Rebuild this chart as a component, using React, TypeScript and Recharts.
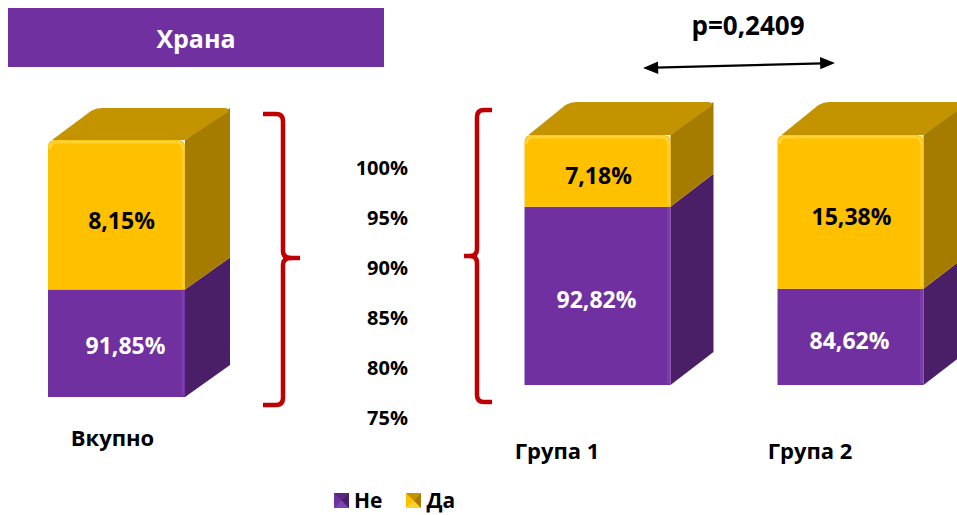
import React from 'react';
import { BarChart, Bar, XAxis, YAxis, LabelList, Legend } from 'recharts';

// Group comparison
const groupCategories = ['Група 1', 'Група 2'];
const groupNo = [92.82, 84.62];
const groupYes = [7.18, 15.38];
const groupTicks = [75, 80, 85, 90, 95, 100];
const groupDomain = [75, 100];

// Overall
const totalCategories = ['Вкупно'];
const totalNo = [91.85];
const totalYes = [8.15];
const totalDomain = [86, 100];

const seriesNames = ['Не', 'Да'];
const titleText = 'Храна';
const pValueText = 'p=0,2409';

const FONT = '"Open Sans", "Noto Sans", sans-serif';
const PURPLE = { face: '#7030A0', side: '#4A1F67', top: '#5A2683', light: '#8A4CBC' };
const YELLOW = { face: '#FFC000', side: '#A67C00', top: '#C39400', light: '#FFDB4D' };

const buildRows = (cats: string[], no: number[], yes: number[]) =>
  cats.map((c, i) => ({
    category: c,
    no: no[i],
    yes: yes[i],
    yesRange: [no[i], Math.round((no[i] + yes[i]) * 100) / 100],
  }));

const groupRows = buildRows(groupCategories, groupNo, groupYes);
const totalRows = buildRows(totalCategories, totalNo, totalYes);

const fmt = (v: number) => `${v.toFixed(2).replace('.', ',')}%`;

// 3D column segment: front face, right side face and (for the top segment) a lid
const makeBox =
  (c: typeof PURPLE, dx: number, dy: number, withTop: boolean) =>
  (props: any) => {
    let { x, y, width, height } = props;
    if (height < 0) {
      y += height;
      height = -height;
    }
    const right = x + width;
    const bottom = y + height;
    const r = withTop ? 7 : 0;
    const front = withTop
      ? `M${x},${bottom} V${y + r} Q${x},${y} ${x + r},${y} H${right - r} Q${right},${y} ${right},${y + r} V${bottom} Z`
      : `M${x},${bottom} V${y} H${right} V${bottom} Z`;
    return (
      <g>
        <polygon
          points={`${right},${y} ${right + dx},${y - dy} ${right + dx},${bottom - dy} ${right},${bottom}`}
          fill={c.side}
        />
        {withTop && (
          <path
            d={`M${x + 4},${y} L${x + dx - 2},${y - dy + 3} Q${x + dx + 3},${y - dy} ${x + dx + 9},${y - dy} H${right + dx - 6} Q${right + dx},${y - dy} ${right + dx - 2},${y - dy + 4} L${right},${y} Z`}
            fill={c.top}
          />
        )}
        <path d={front} fill={c.face} />
        <line x1={right - 2} y1={y + r} x2={right - 2} y2={bottom - 2} stroke={c.light} strokeWidth={3} strokeOpacity={0.45} />
        {withTop && (
          <path
            d={`M${x + 2},${y + r + 2} Q${x + 2},${y + 2} ${x + r + 2},${y + 2} H${right - r - 2} Q${right - 2},${y + 2} ${right - 2},${y + r + 2}`}
            fill="none"
            stroke={c.light}
            strokeWidth={3}
            strokeOpacity={0.7}
          />
        )}
      </g>
    );
  };

const makeLabel = (color: string, dx: number, dy: number) => (p: any) => {
  const vb = p.viewBox || p;
  let { x, y, width, height } = vb;
  if (height < 0) {
    y += height;
    height = -height;
  }
  return (
    <text
      x={x + width / 2 + dx}
      y={y + height / 2 + dy}
      textAnchor="middle"
      dominantBaseline="central"
      fill={color}
      fontFamily={FONT}
      fontWeight={700}
      fontSize={23}
    >
      {fmt(p.value)}
    </text>
  );
};

const makeCategoryTick = (dx: number, dy: number) => (p: any) => (
  <text
    x={p.x + dx}
    y={p.y + dy}
    textAnchor="middle"
    dominantBaseline="central"
    fill="#000"
    fontFamily={FONT}
    fontWeight={700}
    fontSize={22}
  >
    {p.payload.value}
  </text>
);

const PercentTick = (p: any) => (
  <text
    x={p.x}
    y={p.y + 32}
    textAnchor="end"
    dominantBaseline="central"
    fill="#000"
    fontFamily={FONT}
    fontWeight={700}
    fontSize={20}
  >
    {`${p.payload.value}%`}
  </text>
);

const LegendIcon = ({ c }: { c: typeof PURPLE }) => (
  <svg width={15} height={15} style={{ display: 'block' }}>
    <rect x={0} y={0} width={15} height={15} fill={c.face} />
    <polygon points="0,0 15,0 7.5,7.5" fill={c.top} />
    <polygon points="15,0 15,15 7.5,7.5" fill={c.side} />
    <polygon points="0,15 7.5,7.5 15,15" fill={c.light} fillOpacity={0.6} />
  </svg>
);

const renderLegend = (props: any) => {
  const items = [...(props.payload || [])].sort(
    (a: any, b: any) => seriesNames.indexOf(a.value) - seriesNames.indexOf(b.value)
  );
  return (
    <div style={{ display: 'flex', alignItems: 'center', fontFamily: FONT, fontWeight: 700, fontSize: 21 }}>
      {items.map((it: any, i: number) => (
        <div key={i} style={{ display: 'flex', alignItems: 'center', marginRight: 24 }}>
          <LegendIcon c={it.value === seriesNames[0] ? PURPLE : YELLOW} />
          <span style={{ marginLeft: 5, color: '#000', lineHeight: '26px' }}>{it.value}</span>
        </div>
      ))}
    </div>
  );
};

export default function App() {
  return (
    <div style={{ position: 'absolute', left: 0, top: 0, width: 957, height: 515, overflow: 'hidden', background: '#fff' }}>
      {/* Title */}
      <div
        style={{
          position: 'absolute',
          left: 8,
          top: 8,
          width: 376,
          height: 59,
          background: PURPLE.face,
          color: '#fff',
          fontFamily: FONT,
          fontWeight: 700,
          fontSize: 25,
          display: 'flex',
          alignItems: 'center',
          justifyContent: 'center',
        }}
      >
        {titleText}
      </div>

      {/* Overall column */}
      <div style={{ position: 'absolute', left: 0, top: 0 }}>
        <BarChart
          width={300}
          height={515}
          data={totalRows}
          margin={{ top: 140, right: 95, bottom: 88, left: 28 }}
          barSize={137}
        >
          <XAxis xAxisId="no" dataKey="category" height={30} axisLine={false} tickLine={false} tickSize={0} tickMargin={0} tick={makeCategoryTick(-4, 40)} />
          <XAxis xAxisId="yes" dataKey="category" hide />
          <YAxis domain={totalDomain} hide />
          <Bar xAxisId="no" dataKey="no" name={seriesNames[0]} fill={PURPLE.face} isAnimationActive={false} shape={makeBox(PURPLE, 45, 32, false)}>
            <LabelList dataKey="no" content={makeLabel('#fff', 9, 2)} />
          </Bar>
          <Bar xAxisId="yes" dataKey="yesRange" name={seriesNames[1]} fill={YELLOW.face} isAnimationActive={false} shape={makeBox(YELLOW, 45, 32, true)}>
            <LabelList dataKey="yes" content={makeLabel('#000', 5, 5)} />
          </Bar>
        </BarChart>
      </div>

      {/* Group columns */}
      <div style={{ position: 'absolute', left: 0, top: 0 }}>
        <BarChart width={1000} height={515} data={groupRows} margin={{ top: 135, right: 23.5, bottom: 100, left: 358 }} barSize={146}>
          <XAxis
            xAxisId="no"
            dataKey="category"
            height={30}
            padding={{ left: 62.5, right: 0 }}
            axisLine={false}
            tickLine={false}
            tickSize={0}
            tickMargin={0}
            tick={makeCategoryTick(-40, 65)}
          />
          <XAxis xAxisId="yes" dataKey="category" padding={{ left: 62.5, right: 0 }} hide />
          <YAxis
            domain={groupDomain}
            ticks={groupTicks}
            interval={0}
            width={50}
            axisLine={false}
            tickLine={false}
            tickSize={0}
            tickMargin={0}
            tick={PercentTick}
          />
          <Legend
            layout="horizontal"
            verticalAlign="middle"
            align="center"
            content={renderLegend}
            wrapperStyle={{ position: 'absolute', left: 334, top: 487, width: 200, height: 26 }}
          />
          <Bar xAxisId="no" dataKey="no" name={seriesNames[0]} fill={PURPLE.face} isAnimationActive={false} shape={makeBox(PURPLE, 43, 33, false)}>
            <LabelList dataKey="no" content={makeLabel('#fff', -1, 3)} />
          </Bar>
          <Bar xAxisId="yes" dataKey="yesRange" name={seriesNames[1]} fill={YELLOW.face} isAnimationActive={false} shape={makeBox(YELLOW, 43, 33, true)}>
            <LabelList dataKey="yes" content={makeLabel('#000', 1, 4)} />
          </Bar>
        </BarChart>
      </div>

      {/* Braces, comparison arrow and p-value */}
      <svg width={957} height={515} style={{ position: 'absolute', left: 0, top: 0, pointerEvents: 'none' }}>
        <g fill="none" stroke="#C00000" strokeWidth={4.5} strokeLinecap="butt">
          <path d="M263,114 H276 Q283,114 283,121 V251 Q283,258 291,258 H300" />
          <path d="M291,258 Q283,258 283,265 V398 Q283,405 276,405 H263" />
          <path d="M492,110 H484 Q477,110 477,117 V249 Q477,256 470,256 H464" />
          <path d="M470,256 Q477,256 477,263 V395 Q477,402 484,402 H492" />
        </g>
        <line x1={655} y1={67.7} x2={823} y2={63.3} stroke="#000" strokeWidth={2.2} />
        <polygon points="643,68 658,61.6 658.3,74" fill="#000" />
        <polygon points="835,63 820,56.9 820.3,69.3" fill="#000" />
        <text x={748} y={35} textAnchor="middle" fill="#000" fontFamily={FONT} fontWeight={700} fontSize={26}>
          {pValueText}
        </text>
      </svg>
    </div>
  );
}
